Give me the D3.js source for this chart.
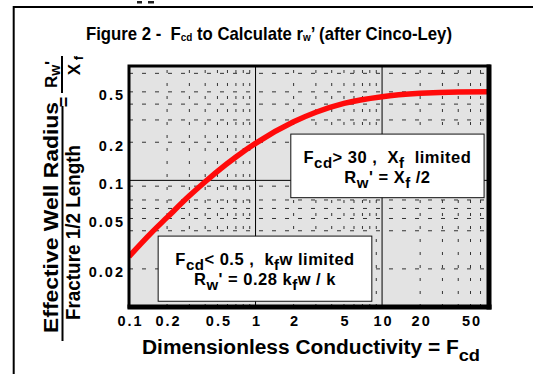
<!DOCTYPE html>
<html>
<head>
<meta charset="utf-8">
<script src="https://cdn.jsdelivr.net/npm/d3@7"></script>
<style>
  body { margin: 0; background: #fff; }
  svg { display: block; }
  text { font-family: "Liberation Sans", Arial, sans-serif; fill: #000; white-space: pre; }
</style>
</head>
<body>
<svg id="chart" width="533" height="374"></svg>
<script>
// Fcd vs rw'/xf curve
const fcd = [0.1, 0.15, 0.2, 0.3, 0.4, 0.5, 0.7, 1, 2, 3, 5, 10, 20, 40, 70]
const rwRatio = [0.025, 0.0385, 0.051, 0.0755, 0.0975, 0.118, 0.153, 0.196, 0.29, 0.345, 0.405, 0.458, 0.487, 0.499, 0.5]

const xTickValues = [0.1, 0.2, 0.5, 1, 2, 5, 10, 20, 50]
const yTickValues = [0.02, 0.05, 0.1, 0.2, 0.5]
const xMajorGrid = [1, 10]
const yMajorGrid = [0.1]
const xMinorGrid = [0.2, 0.3, 0.4, 0.5, 0.6, 0.7, 0.8, 0.9, 2, 3, 4, 5, 6, 7, 8, 9, 20, 30, 40, 50, 60]
const yMinorGrid = [0.02, 0.04, 0.05, 0.06, 0.07, 0.09, 0.2, 0.3, 0.4, 0.5, 0.7]

// annotation boxes, corners in data units
const noteCorners = [
  [1.9, 64, 0.232, 0.073],
  [0.17, 8.3, 0.0363, 0.0111],
]
const noteLines = [
  [
    [['F'], ['cd', 1], ['> 30 ,  X'], ['f', 1], ['  limited']],
    [['R'], ['w', 1], ["' = X"], ['f', 1], [' /2']],
  ],
  [
    [['F'], ['cd', 1], ['< 0.5 ,  k'], ['f', 1], ['w limited']],
    [['R'], ['w', 1], ["' = 0.28 k"], ['f', 1], ['w / k']],
  ],
]

const svg = d3.select('#chart')

const x = d3.scaleLog().domain([0.1, 70]).range([129, 489])
const y = d3.scaleLog().domain([0.01, 0.8]).range([307, 66])

// outer page frame
svg.append('line').attr('x1', 13.7).attr('x2', 13.7).attr('y1', 6).attr('y2', 374)
  .attr('stroke', '#000').attr('stroke-width', 2)
svg.append('line').attr('x1', 13).attr('x2', 533).attr('y1', 7).attr('y2', 7)
  .attr('stroke', '#000').attr('stroke-width', 2)
svg.append('rect').attr('x', 137).attr('y', 1).attr('width', 5).attr('height', 2.5).attr('fill', '#222')
svg.append('rect').attr('x', 148).attr('y', 1).attr('width', 6).attr('height', 2.5).attr('fill', '#222')

// title
const title = svg.append('text')
  .attr('x', 86).attr('y', 39.5)
  .attr('textLength', 366).attr('lengthAdjust', 'spacingAndGlyphs')
  .style('font-family', '"Liberation Sans Narrow", "Arial Narrow", "Liberation Sans", sans-serif')
  .style('font-weight', 'bold').style('font-size', '18.5px')
title.append('tspan').text('Figure 2 -  F')
title.append('tspan').attr('dy', 1.5).style('font-size', '11px').text('cd')
title.append('tspan').attr('dy', -1.5).text(' to Calculate r')
title.append('tspan').attr('dy', 1.5).style('font-size', '11px').text('w')
title.append('tspan').attr('dy', -1.5).text('\u2019 (after Cinco-Ley)')

// plot background
const x0 = x.range()[0], x1 = x.range()[1]
const y0 = y.range()[1], y1 = y.range()[0]
svg.append('rect').attr('x', x0).attr('y', y0).attr('width', x1 - x0).attr('height', y1 - y0)
  .attr('fill', '#e3e3e3')

// minor grid
svg.append('g').selectAll('line').data(xMinorGrid).enter().append('line')
  .attr('x1', d => x(d)).attr('x2', d => x(d)).attr('y1', y0 + 4).attr('y2', y1)
  .attr('stroke', '#333').attr('stroke-width', 1).attr('stroke-dasharray', '3,10')
svg.append('g').selectAll('line').data(yMinorGrid).enter().append('line')
  .attr('x1', x0).attr('x2', x1).attr('y1', d => y(d)).attr('y2', d => y(d))
  .attr('stroke', '#333').attr('stroke-width', 1).attr('stroke-dasharray', '4,9')

// major grid
svg.append('g').selectAll('line').data(xMajorGrid).enter().append('line')
  .attr('x1', d => x(d)).attr('x2', d => x(d)).attr('y1', y0).attr('y2', y1)
  .attr('stroke', '#000').attr('stroke-width', 1)
svg.append('g').selectAll('line').data(yMajorGrid).enter().append('line')
  .attr('x1', x0).attr('x2', x1).attr('y1', d => y(d)).attr('y2', d => y(d))
  .attr('stroke', '#000').attr('stroke-width', 1)

// curve
svg.append('clipPath').attr('id', 'clip').append('rect')
  .attr('x', x0).attr('y', y0).attr('width', x1 - x0).attr('height', y1 - y0)
const line = d3.line()
  .x((d, i) => x(fcd[i]))
  .y(d => y(d))
  .curve(d3.curveMonotoneX)
svg.append('path')
  .datum(rwRatio)
  .attr('clip-path', 'url(#clip)')
  .attr('d', line)
  .attr('fill', 'none')
  .attr('stroke', '#ff0a0a')
  .attr('stroke-width', 5.5)
  .attr('stroke-linecap', 'butt')

// annotation boxes
noteCorners.forEach((c, k) => {
  const bx0 = x(c[0]), bx1 = x(c[1]), by0 = y(c[2]), by1 = y(c[3])
  svg.append('rect')
    .attr('x', bx0).attr('y', by0).attr('width', bx1 - bx0).attr('height', by1 - by0)
    .attr('fill', '#fff').attr('stroke', '#111').attr('stroke-width', 1)
  noteLines[k].forEach((parts, j) => {
    const t = svg.append('text')
      .attr('x', (bx0 + bx1) / 2).attr('y', by0 + 28.5 + j * 20)
      .attr('text-anchor', 'middle')
      .style('font-weight', 'bold').style('font-size', '16.5px').style('letter-spacing', '0.5px')
    let shift = 0
    parts.forEach(p => {
      const target = p[1] ? 5 : 0
      t.append('tspan').attr('dy', target - shift)
        .style('font-size', p[1] ? '15px' : null)
        .text(p[0])
      shift = target
    })
  })
})

// plot frame (heavier on right / bottom)
svg.append('rect').attr('x', x0).attr('y', y0).attr('width', x1 - x0).attr('height', y1 - y0)
  .attr('fill', 'none').attr('stroke', '#000').attr('stroke-width', 3)
svg.append('line').attr('x1', x1).attr('x2', x1).attr('y1', y0 - 1.5).attr('y2', y1 + 2.5)
  .attr('stroke', '#000').attr('stroke-width', 5)
svg.append('line').attr('x1', x0 - 1.5).attr('x2', x1 + 2.5).attr('y1', y1).attr('y2', y1)
  .attr('stroke', '#000').attr('stroke-width', 5)

// axes (labels only)
const xAxis = svg.append('g').attr('transform', `translate(0,${y1})`)
  .call(d3.axisBottom(x).tickValues(xTickValues).tickFormat(d3.format('~g')).tickSize(0).tickPadding(8.5))
xAxis.select('.domain').remove()
xAxis.selectAll('text')
  .attr('dx', 1)
  .style('font-family', '"Liberation Sans", Arial, sans-serif')
  .style('font-size', '14.5px').style('font-weight', 'bold').style('letter-spacing', '2px')

const yAxis = svg.append('g').attr('transform', `translate(${x0},0)`)
  .call(d3.axisLeft(y).tickValues(yTickValues).tickFormat(d3.format('~g')).tickSize(0).tickPadding(4))
yAxis.select('.domain').remove()
yAxis.selectAll('text')
  .attr('dy', '0.55em')
  .style('font-family', '"Liberation Sans", Arial, sans-serif')
  .style('font-size', '14.5px').style('font-weight', 'bold').style('letter-spacing', '2px')

// x axis title
const xt = svg.append('text')
  .attr('x', 142).attr('y', 354)
  .attr('textLength', 338).attr('lengthAdjust', 'spacingAndGlyphs')
  .style('font-weight', 'bold').style('font-size', '19.5px')
xt.append('tspan').text('Dimensionless Conductivity = F')
xt.append('tspan').attr('dy', 7).style('font-size', '17px').text('cd')

// y axis title (rotated fraction)
svg.append('text')
  .attr('transform', 'translate(57.5,217.5) rotate(-90)')
  .attr('text-anchor', 'middle')
  .attr('textLength', 231).attr('lengthAdjust', 'spacingAndGlyphs')
  .style('font-weight', 'bold').style('font-size', '20.5px')
  .text('Effective Well Radius')
svg.append('text')
  .attr('transform', 'translate(79.5,232.5) rotate(-90)')
  .attr('text-anchor', 'middle')
  .attr('textLength', 175).attr('lengthAdjust', 'spacingAndGlyphs')
  .style('font-weight', 'bold').style('font-size', '20px')
  .text('Fracture 1/2 Length')
svg.append('line').attr('x1', 62.5).attr('x2', 62.5).attr('y1', 106).attr('y2', 341)
  .attr('stroke', '#000').attr('stroke-width', 2)

svg.append('text')
  .attr('transform', 'translate(70,102) rotate(-90)')
  .attr('text-anchor', 'middle')
  .style('font-weight', 'bold').style('font-size', '18px')
  .text('=')
svg.append('line').attr('x1', 62).attr('x2', 62).attr('y1', 56).attr('y2', 93)
  .attr('stroke', '#000').attr('stroke-width', 2)

const rw = svg.append('text')
  .attr('transform', 'translate(57,74.5) rotate(-90)')
  .attr('text-anchor', 'middle')
  .style('font-weight', 'bold').style('font-size', '17px')
rw.append('tspan').text('R')
rw.append('tspan').attr('dy', 3).style('font-size', '14px').text('w')
rw.append('tspan').attr('dy', -3).text("'")

const xf = svg.append('text')
  .attr('transform', 'translate(80,65.5) rotate(-90)')
  .attr('text-anchor', 'middle')
  .style('font-weight', 'bold').style('font-size', '17px')
xf.append('tspan').text('X')
xf.append('tspan').attr('dy', 3).style('font-size', '13px').text(' f')
</script>
</body>
</html>
